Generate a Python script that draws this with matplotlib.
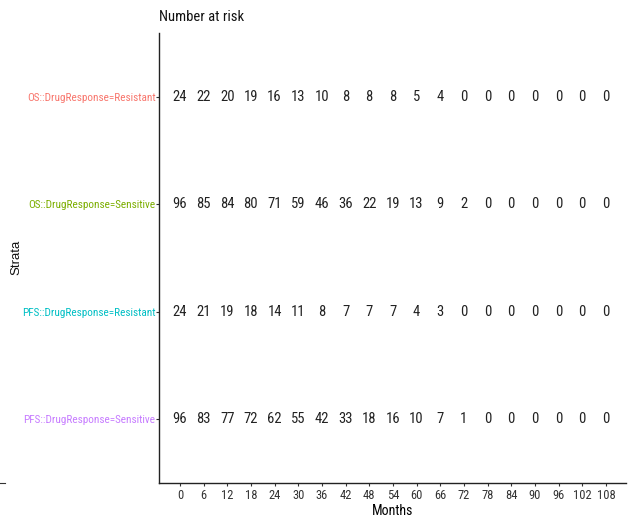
import matplotlib
matplotlib.use("Agg")
import matplotlib.pyplot as plt
from matplotlib.lines import Line2D

strata = ["OS::DrugResponse=Resistant", "OS::DrugResponse=Sensitive",
          "PFS::DrugResponse=Resistant", "PFS::DrugResponse=Sensitive"]
colors = ["#F8766D", "#7CAE00", "#00BFC4", "#C77CFF"]
times = [0, 6, 12, 18, 24, 30, 36, 42, 48, 54, 60, 66, 72, 78, 84, 90, 96, 102, 108]
os_res = [24, 22, 20, 19, 16, 13, 10, 8, 8, 8, 5, 4, 0, 0, 0, 0, 0, 0, 0]
os_sen = [96, 85, 84, 80, 71, 59, 46, 36, 22, 19, 13, 9, 2, 0, 0, 0, 0, 0, 0]
pfs_res = [24, 21, 19, 18, 14, 11, 8, 7, 7, 7, 4, 3, 0, 0, 0, 0, 0, 0, 0]
pfs_sen = [96, 83, 77, 72, 62, 55, 42, 33, 18, 16, 10, 7, 1, 0, 0, 0, 0, 0, 0]
risk = [os_res, os_sen, pfs_res, pfs_sen]

NARROW = ["Roboto Condensed", "Archivo Narrow", "DejaVu Sans"]
REG = ["Liberation Sans", "DejaVu Sans"]

W, H = 634, 517
fig = plt.figure(figsize=(W / 100, H / 100), dpi=100)
ax = fig.add_axes([159 / W, 1 - 483 / H, (626 - 159) / W, (483 - 33) / H])

n = len(strata)
ypos = [n - i for i in range(n)]
for yi, vals in zip(ypos, risk):
    for t, v in zip(times, vals):
        ax.text(t, yi, str(v), ha="center", va="center", fontsize=10.5,
                family=NARROW, color="#222222")

ax.set_xlim(-5.3, 113.1)
ax.set_ylim(0.4, n + 0.6)
ax.set_xticks(times)
ax.set_xticklabels([str(t) for t in times], family=NARROW, fontsize=9, color="#333333")
ax.set_yticks(ypos)
ax.set_yticklabels(strata, family=NARROW, fontsize=8.1)
for lbl, c in zip(ax.get_yticklabels(), colors):
    lbl.set_color(c)
ax.tick_params(axis="both", length=2.5, width=0.8, color="#333333")
ax.tick_params(axis="y", pad=0)
ax.tick_params(axis="x", pad=2)

for s in ["top", "right"]:
    ax.spines[s].set_visible(False)
for s in ["left", "bottom"]:
    ax.spines[s].set_linewidth(1.0)
    ax.spines[s].set_color("#222222")

ax.set_xlabel("Months", family=NARROW, fontsize=10, labelpad=1)
fig.text(159 / W, 1 - 17 / H, "Number at risk", family=NARROW, fontsize=10.5,
         ha="left", va="center", color="#111111")
fig.text(16 / W, 1 - 257 / H, "Strata", family=REG, fontsize=9.5, rotation=90,
         ha="center", va="center", color="#111111")
fig.add_artist(Line2D([0, 5 / W], [1 - 483 / H, 1 - 483 / H], color="#333333",
                      lw=0.8, transform=fig.transFigure))

fig.savefig("out.png", dpi=100)
